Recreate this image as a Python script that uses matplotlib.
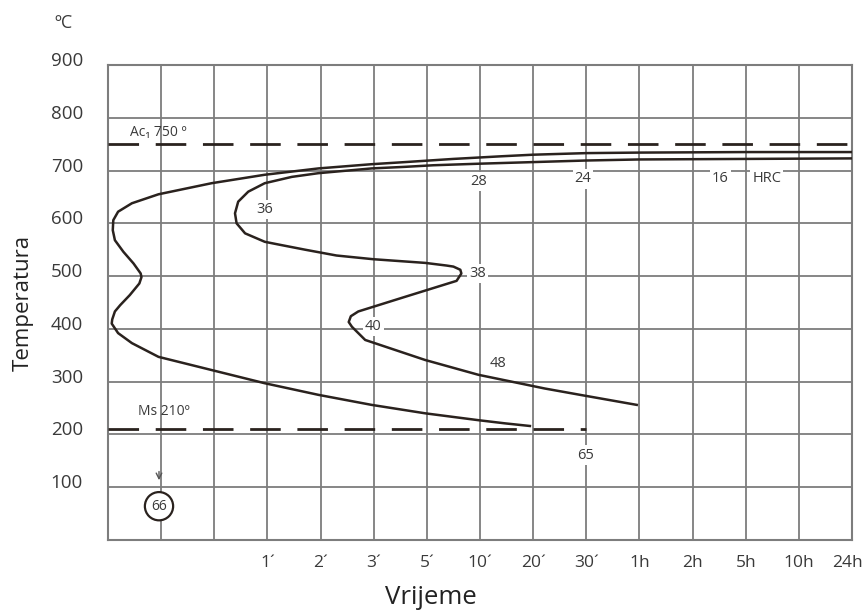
import numpy as np
import matplotlib.pyplot as plt
from matplotlib.transforms import ScaledTranslation

plt.rcParams['font.family'] = ['Open Sans', 'DejaVu Sans']

# time axis: equally spaced categories, labelled from the 4th grid line on
time_labels = ['1´', '2´', '3´', '5´', '10´', '20´', '30´', '1h', '2h', '5h', '10h', '24h']
temp_ticks = [100, 200, 300, 400, 500, 600, 700, 800, 900]

ac1_temp = 750
ms_temp = 210

# start of transformation (outer curve)
start_x = [14, 12, 10, 9, 8, 7.4, 6.5, 5.59, 4.96, 3.96, 2.95, 1.95, 0.95, 0.45, 0.19,
           0.10, 0.09, 0.13, 0.29, 0.48, 0.615, 0.63, 0.59, 0.41, 0.23, 0.13, 0.08,
           0.07, 0.19, 0.45, 0.95, 1.95, 2.95, 3.96, 4.96, 5.97, 6.97, 7.47, 7.94]
start_y = [735, 735, 734, 733, 730, 727, 722, 716, 712, 704, 692, 676, 655, 638, 622,
           606, 587, 568, 546, 524, 505, 498, 486, 464, 445, 433, 418,
           410, 392, 373, 347, 322, 297, 275, 256, 240, 227, 221, 216]

# end of transformation (inner curve)
end_x = [14, 12, 10, 9, 8, 7, 6.12, 5.59, 4.96, 3.96, 3.46, 2.95, 2.64, 2.45, 2.39,
         2.42, 2.58, 2.95, 3.2, 3.71, 4.3, 4.99, 5.97, 6.37, 6.5, 6.63, 6.65, 6.56,
         5.6, 4.71, 4.57, 4.53, 4.59, 4.84, 5.97, 6.97, 8.22, 8.94, 9.95]
end_y = [723, 722, 721, 719, 716, 713, 710, 707, 704, 695, 688, 676, 660, 641, 619,
         600, 581, 565, 560, 550, 539, 532, 525, 520, 518, 512, 505, 491,
         461, 433, 424, 413, 404, 379, 341, 313, 287, 274, 256]

# hardness values (HRC) with their spots
hrc_labels = ['36', '28', '24', '16', 'HRC', '38', '40', '48', '65']
hrc_x = [2.94, 6.98, 8.94, 11.52, 12.4, 6.96, 4.99, 7.34, 8.98]
hrc_y = [627, 679, 684, 684, 684, 505, 404, 335, 161]

txt_col = '#3a3a3a'
grid_col = '#7d7d7d'
line_col = '#2a221e'

fig = plt.figure(figsize=(8.66, 6.13), dpi=100)
ax = fig.add_axes([0.1247, 0.1191, 0.8591, 0.7749])

ax.set_xlim(0, 14)
ax.set_ylim(0, 900)

ax.set_xticks(np.arange(15), minor=True)
ax.set_xticks(np.arange(3, 15))
ax.set_xticklabels(time_labels)
ax.set_yticks(temp_ticks)
ax.set_yticklabels([str(t) for t in temp_ticks])
ax.tick_params(which='both', length=0)
ax.tick_params(axis='x', pad=11, labelsize=12.5, labelcolor=txt_col)
ax.tick_params(axis='y', pad=18, labelsize=13.5, labelcolor=txt_col)
for lab in ax.get_yticklabels():
    lab.set_transform(lab.get_transform() + ScaledTranslation(0, 0.06, fig.dpi_scale_trans))
last = ax.get_xticklabels()[-1]
last.set_transform(last.get_transform() + ScaledTranslation(-0.05, 0, fig.dpi_scale_trans))

ax.grid(True, which='both', axis='x', color=grid_col, lw=1.3)
ax.grid(True, which='major', axis='y', color=grid_col, lw=1.3)
ax.set_axisbelow(True)
for sp in ax.spines.values():
    sp.set_color(grid_col)
    sp.set_linewidth(1.5)

ax.plot(start_x, start_y, color=line_col, lw=1.8, solid_joinstyle='round', zorder=3)
ax.plot(end_x, end_y, color=line_col, lw=1.8, solid_joinstyle='round', zorder=3)

ax.axhline(ac1_temp, color=line_col, lw=2, dashes=(11, 6), zorder=3)
ax.hlines(ms_temp, 0, 9, color=line_col, lw=2, linestyles=(0, (11, 6)), zorder=3)
ax.text(0.42, 773, 'Ac₁ 750 º', fontsize=10, color=txt_col, va='center')
ax.text(0.56, 244, 'Ms 210º', fontsize=10, color=txt_col, va='center')

for lab, x, y in zip(hrc_labels, hrc_x, hrc_y):
    ax.text(x, y, lab, fontsize=10.5, color=txt_col, ha='center', va='center', zorder=4,
            bbox=dict(facecolor='white', edgecolor='none', pad=1.5))

# martensite hardness at the Ms line, circled
ax.annotate('', xy=(0.96, 108), xytext=(0.96, 135),
            arrowprops=dict(arrowstyle='->', color='#555555', lw=1, mutation_scale=10))
ax.text(0.96, 64, '66', fontsize=10, color=txt_col, ha='center', va='center', zorder=4,
        bbox=dict(boxstyle='circle,pad=0.45', facecolor='white', edgecolor=line_col, lw=1.6))

ax.set_ylabel('Temperatura', fontsize=16, color='#222222', labelpad=12)
fig.text(0.497, 0.025, 'Vrijeme', fontsize=18.5, color='#222222', ha='center', va='center')
fig.text(0.063, 0.962, 'ºC', fontsize=13, color=txt_col, va='center')

fig.savefig('out.png', dpi=100)
